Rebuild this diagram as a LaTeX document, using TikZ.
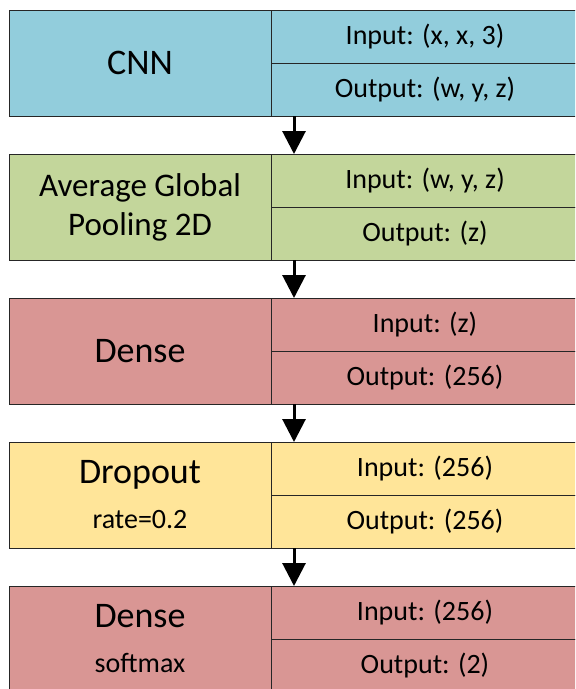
\documentclass[tikz,border=0pt]{standalone}
\usepackage{fontspec}
\setmainfont{Carlito}
\usetikzlibrary{positioning}
\usetikzlibrary{arrows.meta}
\definecolor{cnnblue}{RGB}{146,205,220}
\definecolor{poolgreen}{RGB}{195,214,155}
\definecolor{denserose}{RGB}{217,150,148}
\definecolor{dropyellow}{RGB}{255,229,153}

\begin{document}
\begin{tikzpicture}[
    node distance=28.5pt,
    % node styles
    layer/.style = {
      draw=black!85,
      line width=0.75pt,
      minimum width=196.5pt,
      minimum height=79.5pt,
      inner sep=0pt,
      outer sep=0pt,
      align=center,
      font=\fontsize{27}{32}\selectfont
    },
    io/.style = {
      draw=black!85,
      line width=0.75pt,
      minimum width=231pt,
      minimum height=39.75pt,
      inner sep=0pt,
      outer sep=0pt,
      anchor=north west,
      font=\fontsize{21}{25}\selectfont
    },
    % arrow styles
    arr/.style = {-{Triangle[width=17.25pt,length=17.25pt]}, line width=2.25pt, draw=black}
  ]

  \clip (-6.75pt,7.5pt) rectangle (424.5pt,-509.25pt);

  % --- Layers
  \node[layer, fill=cnnblue, anchor=north west] (cnn) at (0,0) {CNN};
  \node[io, fill=cnnblue] (cnnin) at (cnn.north east) {Input: (x, x, 3)};
  \node[io, fill=cnnblue, below=0pt of cnnin] (cnnout) {Output: (w, y, z)};

  \node[layer, fill=poolgreen, below=of cnn,
    font=\fontsize{24.75}{29.25}\selectfont] (pool) {Average Global\\Pooling 2D};
  \node[io, fill=poolgreen] (poolin) at (pool.north east) {Input: (w, y, z)};
  \node[io, fill=poolgreen, below=0pt of poolin] (poolout) {Output: (z)};

  \node[layer, fill=denserose, below=of pool] (dense) {Dense};
  \node[io, fill=denserose] (densein) at (dense.north east) {Input: (z)};
  \node[io, fill=denserose, below=0pt of densein] (denseout) {Output: (256)};

  \node[layer, fill=dropyellow, below=of dense,
    font=\fontsize{21}{33.75}\selectfont] (drop) {{\fontsize{27}{33.75}\selectfont Dropout}\\rate=0.2};
  \node[io, fill=dropyellow] (dropin) at (drop.north east) {Input: (256)};
  \node[io, fill=dropyellow, below=0pt of dropin] (dropout) {Output: (256)};

  \node[layer, fill=denserose, below=of drop,
    font=\fontsize{21}{33.75}\selectfont] (soft) {{\fontsize{27}{33.75}\selectfont Dense}\\softmax};
  \node[io, fill=denserose] (softin) at (soft.north east) {Input: (256)};
  \node[io, fill=denserose, below=0pt of softin] (softout) {Output: (2)};

  % --- Arrows
  \draw[arr] ([xshift=17.25pt]cnnout.south west) -- ([xshift=17.25pt]poolin.north west);
  \draw[arr] ([xshift=17.25pt]poolout.south west) -- ([xshift=17.25pt]densein.north west);
  \draw[arr] ([xshift=17.25pt]denseout.south west) -- ([xshift=17.25pt]dropin.north west);
  \draw[arr] ([xshift=17.25pt]dropout.south west) -- ([xshift=17.25pt]softin.north west);

\end{tikzpicture}
\end{document}
